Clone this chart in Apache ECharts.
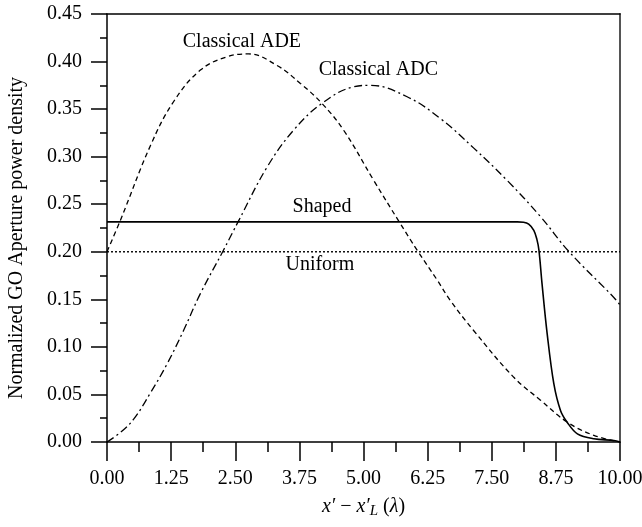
<!DOCTYPE html>
<html>
<head>
<meta charset="utf-8">
<script src="https://cdn.jsdelivr.net/npm/echarts@6/dist/echarts.min.js"></script>
<style>
html,body{margin:0;padding:0;background:#fff;}
#chart{width:642px;height:527px;}
</style>
</head>
<body>
<div id="chart"></div>
<script>
// ---- data ----
var adeX = [0, 0.26, 0.85, 1.30, 1.82, 2.34, 2.76, 3.31, 3.77, 4.19, 4.61, 5.20, 5.69, 6.06, 6.44, 6.69, 7.15, 7.93, 8.45, 8.97, 9.49, 10];
var adeY = [0.200, 0.233, 0.312, 0.358, 0.391, 0.405, 0.408, 0.396, 0.377, 0.356, 0.328, 0.275, 0.232, 0.2005, 0.170, 0.149, 0.117, 0.068, 0.044, 0.021, 0.007, 0.0];

var adcX = [0, 0.26, 0.52, 0.84, 1.17, 1.49, 1.82, 2.27, 2.57, 3.12, 3.64, 4.19, 4.81, 5.13, 5.85, 6.50, 7.15, 7.80, 8.45, 9.00, 9.88, 10];
var adcY = [0, 0.010, 0.024, 0.051, 0.082, 0.117, 0.156, 0.2016, 0.233, 0.289, 0.328, 0.356, 0.3735, 0.375, 0.363, 0.340, 0.309, 0.275, 0.237, 0.2005, 0.152, 0.144];

var shapedX = [0, 4.0, 8.0, 8.12, 8.22, 8.32, 8.38, 8.42, 8.48, 8.58, 8.71, 8.84, 8.97, 9.17, 9.49, 9.88, 10];
var shapedY = [0.2314, 0.2314, 0.2314, 0.2310, 0.2290, 0.2226, 0.2130, 0.2016, 0.1665, 0.114, 0.0613, 0.0332, 0.0208, 0.0086, 0.0034, 0.0016, 0.0];

var uniformX = [0, 10];
var uniformY = [0.2, 0.2];

var labelNames = ['Classical ADE', 'Classical ADC', 'Shaped', 'Uniform'];
var labelX = [2.63, 5.29, 4.19, 4.15];
var labelY = [0.421, 0.391, 0.247, 0.186];

var xTicks = [0, 1.25, 2.5, 3.75, 5, 6.25, 7.5, 8.75, 10];
var yTicks = [0, 0.05, 0.10, 0.15, 0.20, 0.25, 0.30, 0.35, 0.40, 0.45];

function pairs(xs, ys) { return xs.map(function (x, i) { return [x, ys[i]]; }); }

var FONT = '"Liberation Serif", "DejaVu Serif", serif';
var chart = echarts.init(document.getElementById('chart'), null, {renderer: 'canvas'});

var option = {
  animation: false,
  backgroundColor: '#fff',
  grid: {left: 107, right: 22, top: 14, bottom: 85, containLabel: false, outerBoundsMode: 'none'},
  xAxis: [{
    type: 'value', min: xTicks[0], max: xTicks[xTicks.length - 1], interval: 1.25,
    position: 'bottom',
    axisLine: {show: true, onZero: false, lineStyle: {color: '#000', width: 1.5}},
    axisTick: {show: true, inside: false, length: 19, lineStyle: {color: '#000', width: 1.5}},
    minorTick: {show: true, splitNumber: 2, length: 10, lineStyle: {color: '#000', width: 1.5}},
    splitLine: {show: false},
    axisLabel: {margin: 27, color: '#000', fontFamily: FONT, fontSize: 20,
      formatter: function (v) { return v.toFixed(2); }},
    name: '{i|x′} − {i|x′}{sub|L} ({i|λ})',
    nameLocation: 'middle', nameGap: 52,
    nameTextStyle: {color: '#000', fontFamily: FONT, fontSize: 20,
      rich: {
        i: {fontFamily: FONT, fontStyle: 'italic', fontSize: 20, color: '#000'},
        sub: {fontFamily: FONT, fontStyle: 'italic', fontSize: 15, color: '#000', verticalAlign: 'bottom', padding: [10, 0, 0, 0]}
      }}
  }, {
    type: 'value', min: 0, max: 10, position: 'top',
    axisLine: {show: true, onZero: false, lineStyle: {color: '#000', width: 1.5}},
    axisTick: {show: false}, axisLabel: {show: false}, splitLine: {show: false}
  }],
  yAxis: [{
    type: 'value', min: yTicks[0], max: yTicks[yTicks.length - 1], interval: 0.05,
    position: 'left',
    axisLine: {show: true, onZero: false, lineStyle: {color: '#000', width: 1.5}},
    axisTick: {show: true, inside: false, length: 16, lineStyle: {color: '#000', width: 1.5}},
    minorTick: {show: true, splitNumber: 2, length: 7, lineStyle: {color: '#000', width: 1.5}},
    splitLine: {show: false},
    axisLabel: {margin: 25, color: '#000', fontFamily: FONT, fontSize: 20,
      formatter: function (v) { return v.toFixed(2); }},
    name: 'Normalized GO Aperture power density',
    nameLocation: 'middle', nameGap: 80, nameRotate: 90,
    nameTextStyle: {color: '#000', fontFamily: FONT, fontSize: 20, padding: [0, 20, 0, 0]}
  }, {
    type: 'value', min: 0, max: 0.45, position: 'right',
    axisLine: {show: true, onZero: false, lineStyle: {color: '#555', width: 2}},
    axisTick: {show: false}, axisLabel: {show: false}, splitLine: {show: false}
  }],
  series: [
    {type: 'line', name: 'Uniform', data: pairs(uniformX, uniformY), showSymbol: false, symbol: 'none',
      lineStyle: {color: '#000', width: 1.4, type: [2, 2]}},
    {type: 'line', name: 'Classical ADE', data: pairs(adeX, adeY), smooth: 0.4, showSymbol: false, symbol: 'none',
      lineStyle: {color: '#000', width: 1.3, type: [5, 3.5]}},
    {type: 'line', name: 'Classical ADC', data: pairs(adcX, adcY), smooth: 0.4, showSymbol: false, symbol: 'none',
      lineStyle: {color: '#000', width: 1.3, type: [8, 3.5, 2, 3.5]}},
    {type: 'line', name: 'Shaped', data: pairs(shapedX, shapedY), smooth: 0.35, showSymbol: false, symbol: 'none',
      lineStyle: {color: '#000', width: 1.6, type: 'solid'}},
    {type: 'scatter', name: 'labels', symbolSize: 0, itemStyle: {color: '#000'},
      data: labelNames.map(function (n, i) { return {name: n, value: [labelX[i], labelY[i]]}; }),
      label: {show: true, position: 'inside', formatter: '{b}', color: '#000', opacity: 1, textBorderWidth: 0,
        fontFamily: FONT, fontSize: 20},
      emphasis: {disabled: true},
      silent: true, z: 5}
  ]
};
chart.setOption(option);
</script>
</body>
</html>
